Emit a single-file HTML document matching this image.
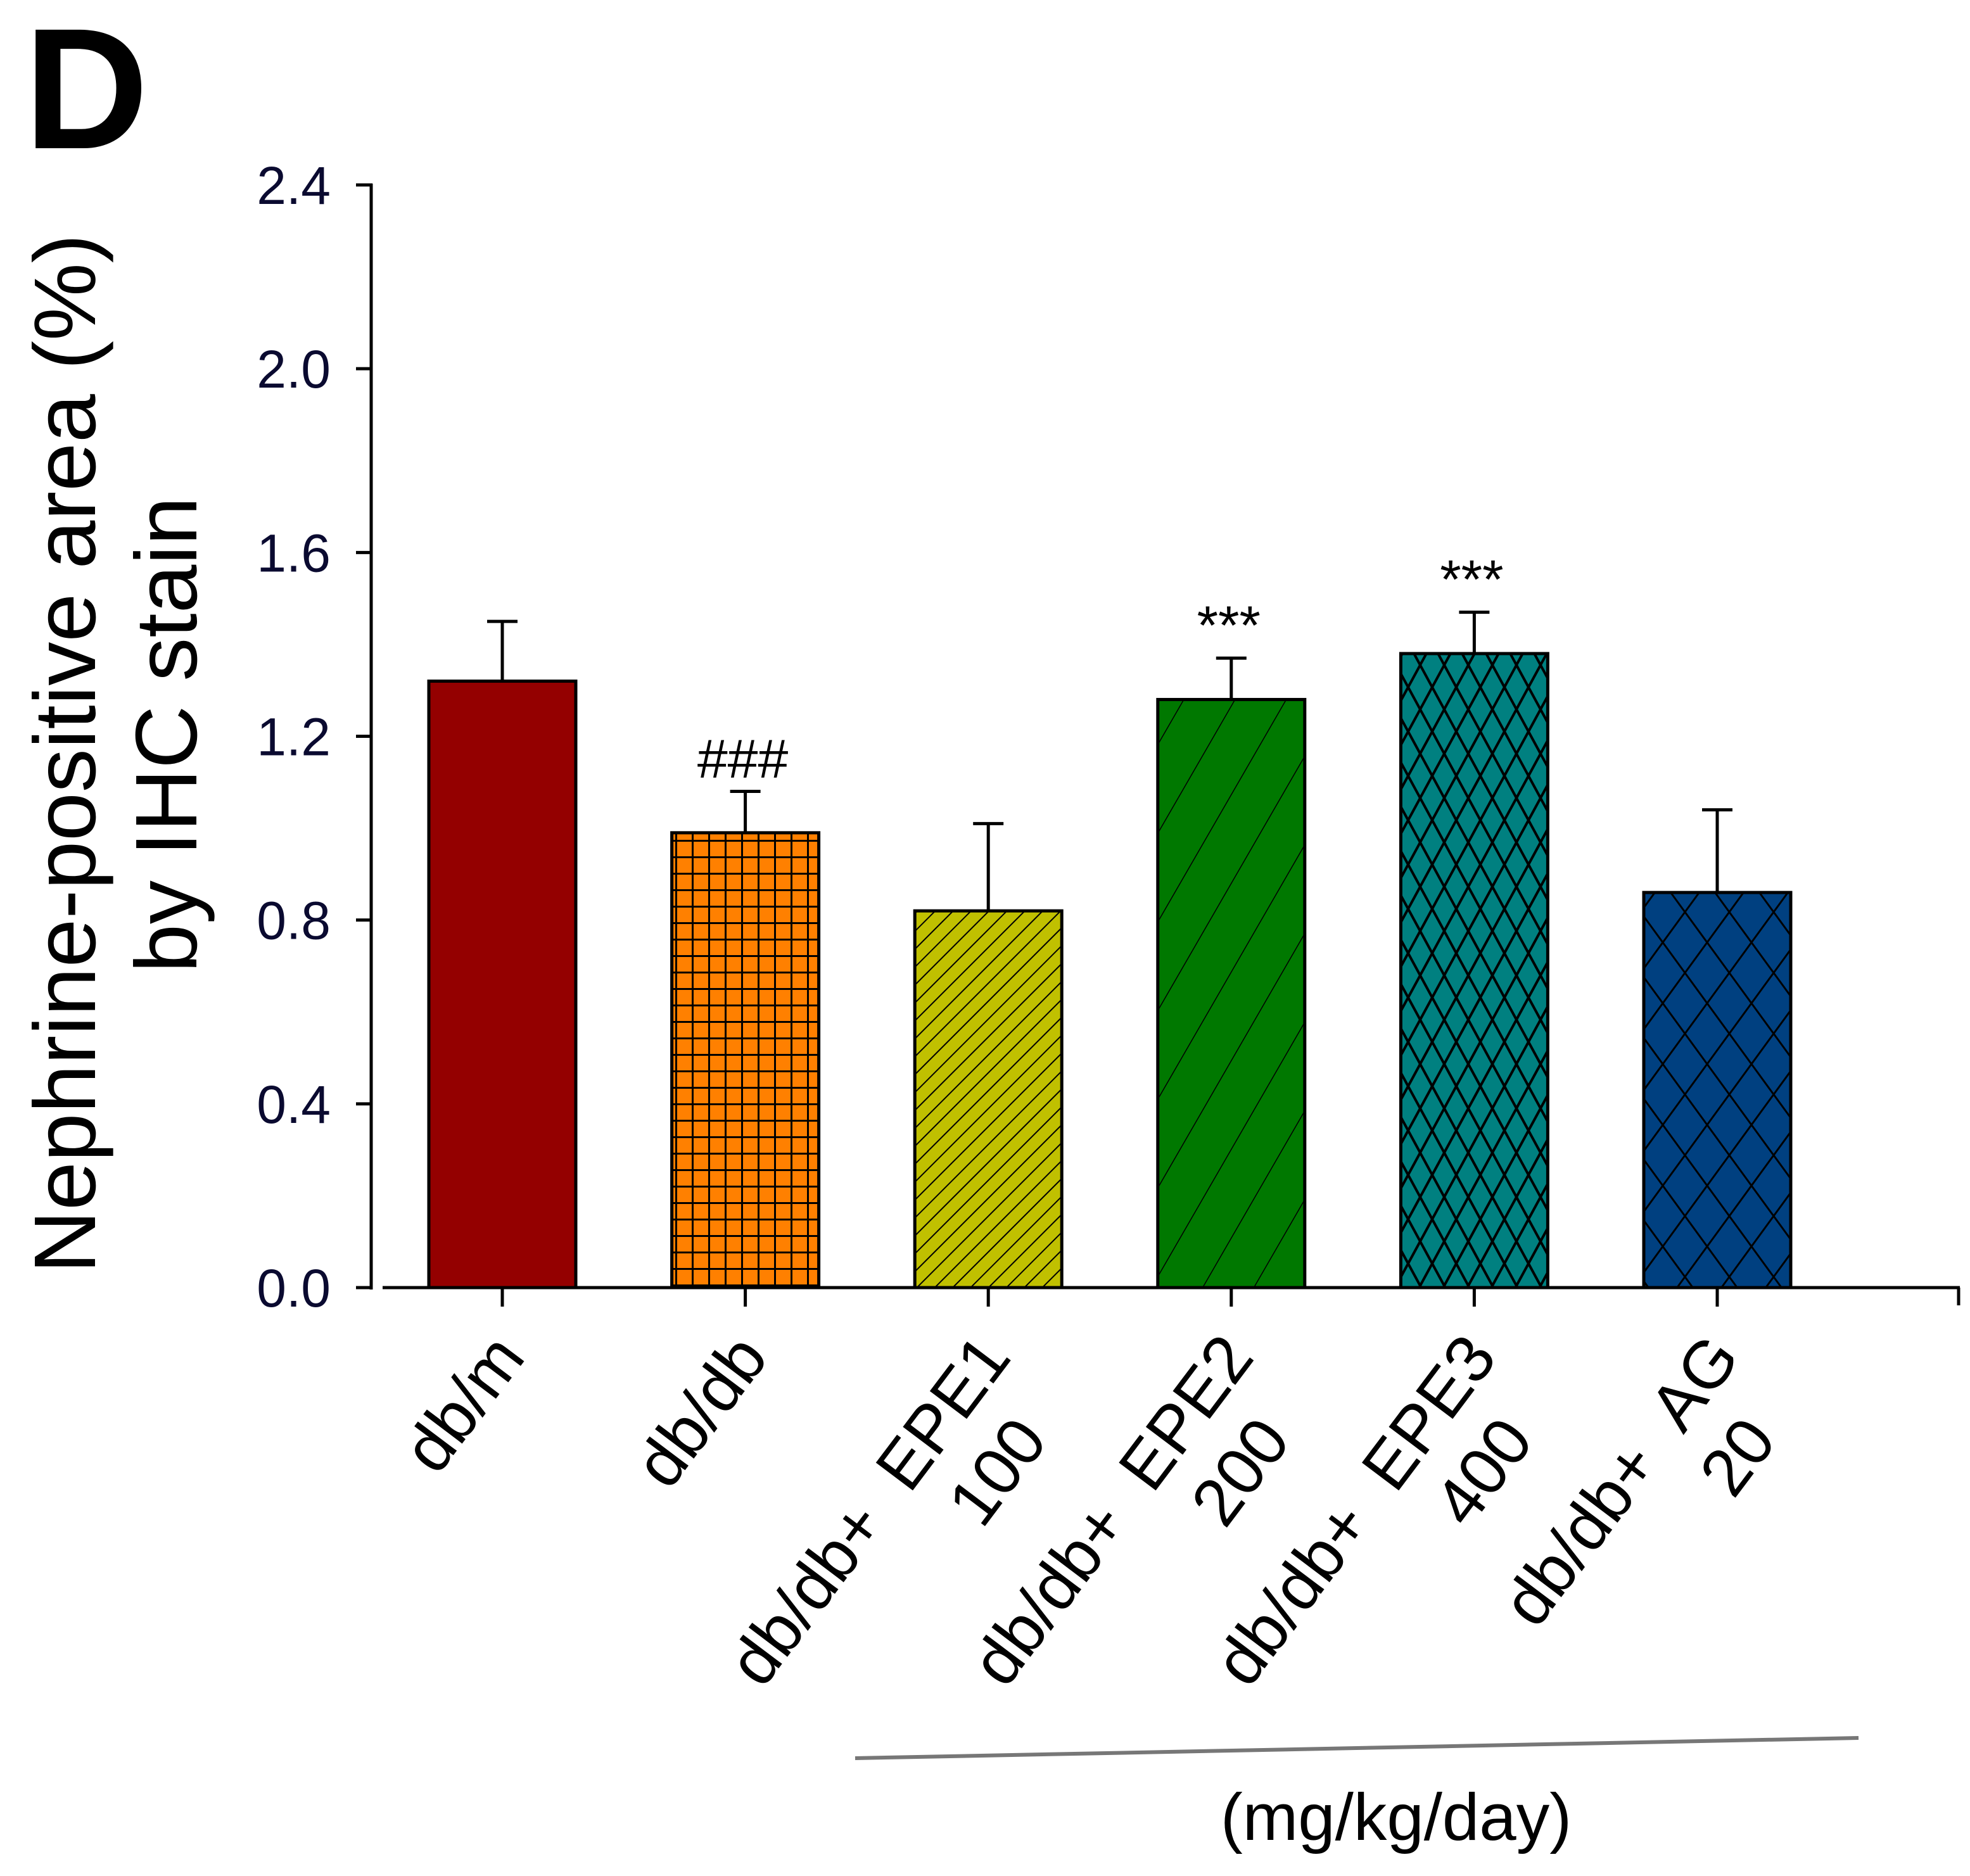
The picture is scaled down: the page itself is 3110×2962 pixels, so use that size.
<!DOCTYPE html>
<html><head><meta charset="utf-8"><style>
html,body{margin:0;padding:0;background:#fff;}
svg{display:block;font-family:"Liberation Sans",Arial,sans-serif;}
</style></head><body>
<svg id="chart" width="3110" height="2962" viewBox="0 0 3110 2962" xmlns="http://www.w3.org/2000/svg">
<defs>
<pattern id="p-grid" patternUnits="userSpaceOnUse" width="26" height="26"><rect width="26" height="26" fill="#ff8000"/><path d="M0 0H26M0 0V26" stroke="#000" stroke-width="6"/></pattern>
<pattern id="p-fine" patternUnits="userSpaceOnUse" width="20" height="20" patternTransform="rotate(45)"><rect width="20" height="20" fill="#c0c000"/><path d="M0 0V20" stroke="#000" stroke-width="4"/></pattern>
<pattern id="p-wide" patternUnits="userSpaceOnUse" width="70" height="70" patternTransform="rotate(30)"><rect width="70" height="70" fill="#007800"/><path d="M0 0V70" stroke="#000" stroke-width="3"/></pattern>
<pattern id="p-cross" patternUnits="userSpaceOnUse" width="38" height="70"><rect width="38" height="70" fill="#008080"/><path d="M0 0L38 70M38 0L0 70" stroke="#000" stroke-width="4"/></pattern>
<pattern id="p-bigcross" patternUnits="userSpaceOnUse" width="70" height="96"><rect width="70" height="96" fill="#004080"/><path d="M0 0L70 96M70 0L0 96" stroke="#000" stroke-width="3"/></pattern>
</defs>
<text x="38" y="234" font-size="272" font-weight="bold">D</text>
<g id="yaxis"></g>
<g id="bars"></g>
<g id="xaxis"></g>
<g transform="translate(150,1190) rotate(-90)" font-size="138" text-anchor="middle">
<text x="0" y="0">Nephrine-positive area (%)</text>
<text x="30" y="160">by IHC stain</text>
</g>
<line x1="1350" y1="2776" x2="2934" y2="2744" stroke="#777" stroke-width="6"/>
<text x="2204" y="2905" font-size="105" text-anchor="middle">(mg/kg/day)</text>
</svg>
<script>
const categories = [["db/m"],["db/db"],["db/db+\u00a0\u00a0EPE1","100"],["db/db+\u00a0\u00a0EPE2","200"],["db/db+\u00a0\u00a0EPE3","400"],["db/db+\u00a0\u00a0AG","20"]];
const means = [1.32, 0.99, 0.82, 1.28, 1.38, 0.86];
const errors = [0.13, 0.09, 0.19, 0.09, 0.09, 0.18];
const marks = ["", "###", "", "***", "***", ""];
const yTicks = [0.0, 0.4, 0.8, 1.2, 1.6, 2.0, 2.4];
const fills = ["#940000","url(#p-grid)","url(#p-fine)","url(#p-wide)","url(#p-cross)","url(#p-bigcross)"];

const NS = "http://www.w3.org/2000/svg";
const y0 = 2033, y1 = 292, yMax = 2.4;
function yPos(v){ return y0 - (v / yMax) * (y0 - y1); }
function xPos(i){ return 793 + i * 383.6; }
const barW = 232;
function mk(tag, attrs, parent){ const e = document.createElementNS(NS, tag); for (const k in attrs) e.setAttribute(k, attrs[k]); parent.appendChild(e); return e; }

const ya = document.getElementById('yaxis');
const yl = mk('line', {x1:586, y1:yPos(yMax)-2, x2:586, y2:y0+3, stroke:'#000','stroke-width':5}, ya);


yTicks.forEach(t => {
  const tk = mk('line', {x1:562, y1:yPos(t), x2:588, y2:yPos(t), stroke:'#000','stroke-width':5}, ya);
  
  
  const lb = mk('text', {x:522, y:yPos(t)+30, 'font-size':84, 'text-anchor':'end', fill:'#0a0a30'}, ya);
  lb.textContent = t.toFixed(1);
  
  
});

const bg = document.getElementById('bars');
means.forEach((m, i) => {
  const cx = xPos(i);
  const top = yPos(m);
  const r = mk('rect', {x:cx-barW/2, y:top, width:barW, height:y0-top, fill:fills[i], stroke:'#000','stroke-width':5}, bg);
  
  
  const et = yPos(m + errors[i]);
  const el = mk('path', {d:`M${cx} ${top} V${et} M${cx-24} ${et} H${cx+24}`, stroke:'#000','stroke-width':5, fill:'none'}, bg);
  
  
  if (marks[i]) {
    const st = mk('text', {x:cx-4, y:et-22, 'font-size':86, 'text-anchor':'middle'}, bg);
    st.textContent = marks[i];
    
    
  }
});

const xa = document.getElementById('xaxis');
const xl = mk('line', {x1:604, y1:y0, x2:3094, y2:y0, stroke:'#000','stroke-width':5}, xa);


const endTick = mk('line', {x1:3092, y1:y0, x2:3092, y2:y0+28, stroke:'#000','stroke-width':5}, xa);


categories.forEach((c, i) => {
  const cx = xPos(i);
  const tk = mk('line', {x1:cx, y1:y0, x2:cx, y2:y0+30, stroke:'#000','stroke-width':5}, xa);
  
  
  const g = mk('g', {transform:`translate(${cx-22},2098) rotate(-53)`, 'font-size':106, 'text-anchor':'end'}, xa);
  
  
  c.forEach((line, j) => {
    const t = mk('text', {x: j === 0 ? 0 : -70, y: j*125 + 76}, g);
    t.textContent = line;
  });
});
</script>
</body></html>
